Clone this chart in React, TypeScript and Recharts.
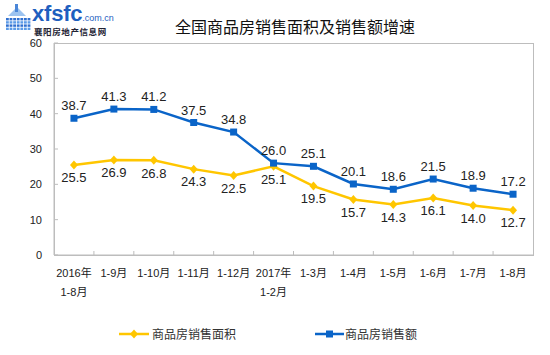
import React from 'react';
import { LineChart, Line, XAxis, YAxis, LabelList, Legend } from 'recharts';

const categories = ['2016年\n1-8月', '1-9月', '1-10月', '1-11月', '1-12月', '2017年\n1-2月', '1-3月', '1-4月', '1-5月', '1-6月', '1-7月', '1-8月'];
const areaGrowth = [25.5, 26.9, 26.8, 24.3, 22.5, 25.1, 19.5, 15.7, 14.3, 16.1, 14.0, 12.7];
const salesGrowth = [38.7, 41.3, 41.2, 37.5, 34.8, 26.0, 25.1, 20.1, 18.6, 21.5, 18.9, 17.2];
const yTicks = [0, 10, 20, 30, 40, 50, 60];

const data = categories.map((name, i) => ({ name, area: areaGrowth[i], sales: salesGrowth[i] }));

const YELLOW = '#FFC600';
const BLUE = '#0A64C8';
const BORDER = '#BDBDBD';
const LATIN = '"Liberation Sans", Arial, "Noto Sans CJK SC", sans-serif';
const CJK = '"Noto Sans CJK SC", sans-serif';

const PLOT_W = 479;
const STEP = PLOT_W / categories.length;

const XTick = (props: any) => {
  const { x, y, payload, index } = props;
  const lines = String(payload.value).split('\n');
  return (
    <g>
      {index < categories.length - 1 && (
        <line x1={x + STEP / 2} x2={x + STEP / 2} y1={y} y2={y - 4} stroke={BORDER} />
      )}
      <text x={x} y={y + 22} textAnchor="middle" fontSize={11} fill="#222" fontFamily={LATIN}>
        {lines.map((l, i) => (
          <tspan key={i} x={x} dy={i === 0 ? 0 : 19}>{l}</tspan>
        ))}
      </text>
    </g>
  );
};

const SquareDot = (props: any) => {
  const { cx, cy } = props;
  return <rect x={cx - 3.5} y={cy - 3.5} width={7} height={7} fill={BLUE} />;
};

const DiamondDot = (props: any) => {
  const { cx, cy } = props;
  return <path d={`M${cx},${cy - 4.5}L${cx + 4},${cy}L${cx},${cy + 4.5}L${cx - 4},${cy}Z`} fill={YELLOW} />;
};

const LegendContent = () => (
  <div style={{ position: 'relative', width: 550, height: 24, fontFamily: CJK, fontSize: 12, color: '#333' }}>
    <div style={{ position: 'absolute', left: 119, top: 4, display: 'flex', alignItems: 'center' }}>
      <svg width={30} height={12}>
        <line x1={0} x2={30} y1={6} y2={6} stroke={YELLOW} strokeWidth={2.5} />
        <path d="M15,1.5L19,6L15,10.5L11,6Z" fill={YELLOW} />
      </svg>
      <span style={{ marginLeft: 3 }}>商品房销售面积</span>
    </div>
    <div style={{ position: 'absolute', left: 315, top: 4, display: 'flex', alignItems: 'center' }}>
      <svg width={29} height={12}>
        <line x1={0} x2={29} y1={6} y2={6} stroke={BLUE} strokeWidth={2.5} />
        <rect x={11} y={2.5} width={7} height={7} fill={BLUE} />
      </svg>
      <span style={{ marginLeft: 1 }}>商品房销售额</span>
    </div>
  </div>
);

// 網站標誌 (襄阳房地产信息网)
const Logo = () => {
  const cells: React.ReactNode[] = [];
  for (let r = 0; r < 4; r++) {
    for (let c = 0; c < 7; c++) {
      cells.push(
        <rect key={`${r}-${c}`} x={6 + c * 3.6} y={16 + r * 3.2} width={2.8} height={2.4}
          fill={r % 2 === 0 ? '#2F6FD0' : '#5B9BE8'} />
      );
    }
  }
  return (
    <div style={{ position: 'absolute', left: 0, top: 0, width: 115, height: 40 }}>
      <svg width={34} height={32} style={{ position: 'absolute', left: 0, top: 2 }}>
        <path d="M8,14L17,5L26,14Z" fill="#9CC3F0" />
        <rect x={15} y={2} width={3} height={8} fill="#4A86D8" />
        {cells}
      </svg>
      <div style={{ position: 'absolute', left: 32, top: 4, fontFamily: LATIN, fontWeight: 'bold', fontSize: 22, color: '#1F5FBF', letterSpacing: -0.2, lineHeight: '20px' }}>
        xfsfc
        <span style={{ fontSize: 9, fontWeight: 'normal', letterSpacing: 0 }}>.com.cn</span>
      </div>
      <div style={{ position: 'absolute', left: 34, top: 27, fontFamily: CJK, fontWeight: 'bold', fontSize: 8.5, color: '#223', letterSpacing: 0.6, lineHeight: '9px' }}>
        襄阳房地产信息网
      </div>
    </div>
  );
};

export default function App() {
  return (
    <div style={{ position: 'absolute', left: 0, top: 0, width: 550, height: 355, background: '#fff' }}>
      <Logo />
      <div style={{ position: 'absolute', left: 0, width: 590, top: 15, textAlign: 'center', fontFamily: CJK, fontSize: 16, color: '#111', lineHeight: '22px' }}>
        全国商品房销售面积及销售额增速
      </div>
      <div style={{ position: 'absolute', left: 0, top: 0 }}>
        <LineChart width={550} height={355} data={data} margin={{ top: 43, right: 17, left: 0, bottom: 70 }}>
          <XAxis
            dataKey="name"
            interval={0}
            padding={{ left: STEP / 2, right: STEP / 2 }}
            height={30}
            axisLine={{ stroke: BORDER }}
            tickLine={false}
            tickSize={0}
            tickMargin={0}
            tick={<XTick />}
          />
          <YAxis
            width={54}
            domain={[0, 60]}
            ticks={yTicks}
            interval={0}
            tickSize={-4}
            tickMargin={16}
            tickLine={{ stroke: BORDER }}
            axisLine={{ stroke: BORDER }}
            tick={{ fill: '#222', fontSize: 11, fontFamily: LATIN }}
          />
          <Line
            dataKey="area"
            stroke={YELLOW}
            strokeWidth={2.5}
            dot={<DiamondDot />}
            activeDot={false}
            isAnimationActive={false}
          >
            <LabelList dataKey="area" position="bottom" offset={8} fill="#222" fontSize={13} fontFamily={LATIN}
              formatter={(v: any) => Number(v).toFixed(1)} />
          </Line>
          <Line
            dataKey="sales"
            stroke={BLUE}
            strokeWidth={2.5}
            dot={<SquareDot />}
            activeDot={false}
            isAnimationActive={false}
          >
            <LabelList dataKey="sales" position="top" offset={8} fill="#222" fontSize={13} fontFamily={LATIN}
              formatter={(v: any) => Number(v).toFixed(1)} />
          </Line>
          <Legend
            verticalAlign="middle"
            align="center"
            layout="horizontal"
            wrapperStyle={{ top: 321, left: 0, width: 550, height: 24 }}
            content={() => <LegendContent />}
          />
        </LineChart>
      </div>
      {/* plot area frame */}
      <div style={{ position: 'absolute', left: 54, top: 43, width: 480, height: 213, border: `1px solid ${BORDER}`, boxSizing: 'border-box', pointerEvents: 'none' }} />
    </div>
  );
}
